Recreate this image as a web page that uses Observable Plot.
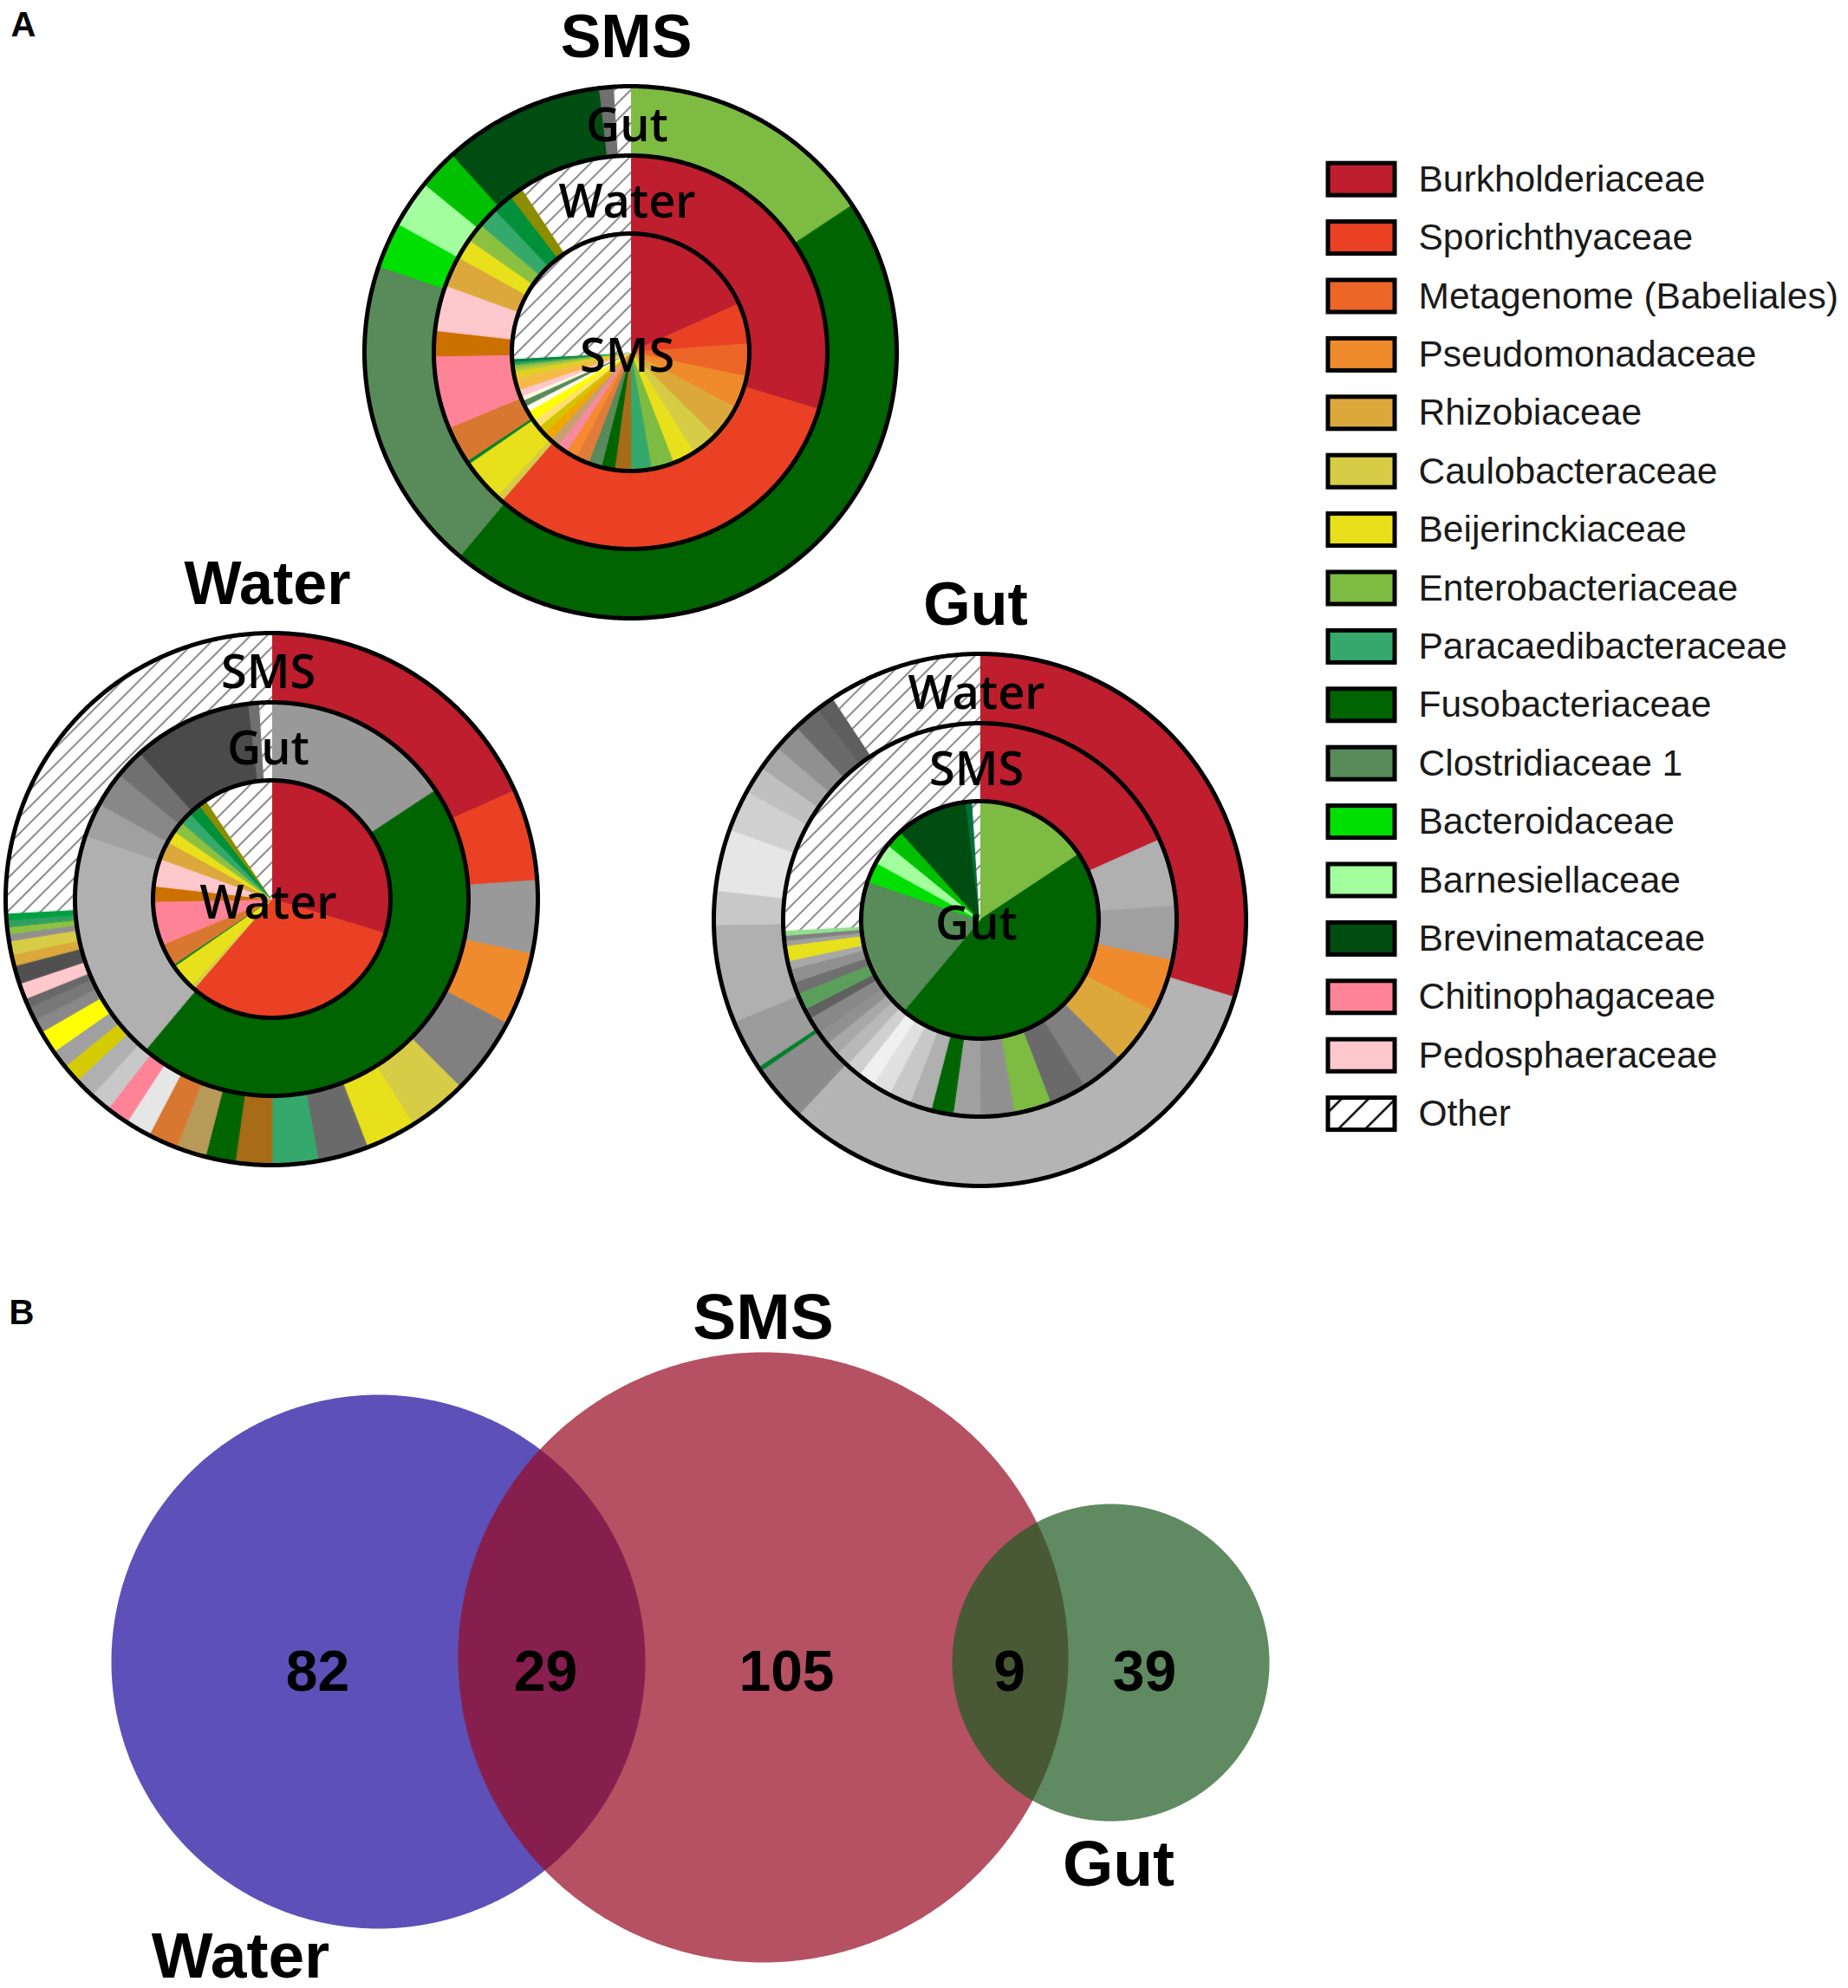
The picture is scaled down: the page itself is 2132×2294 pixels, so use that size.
<!DOCTYPE html>
<html>
<head>
<meta charset="utf-8">
<script src="https://cdn.jsdelivr.net/npm/d3@7"></script>
<script src="https://cdn.jsdelivr.net/npm/@observablehq/plot@0.6"></script>
<style>
  html, body { margin: 0; padding: 0; background: #fff; }
</style>
</head>
<body>
<div id="chart"></div>
<script>
// ---------------- DATA ----------------
const sampleNames = ["SMS", "Water", "Gut"];

// relative abundance (%) of the families in each sample, in drawing order (clockwise from 12 o'clock)
const smsAbundance = [18.33, 5.56, 4.44, 4.44, 4.72, 3.61, 3.06, 3.06, 2.78, 2.22, 1.81, 1.81, 1.81, 1.53, 1.39, 1.25,
  1.25, 1.11, 1.11, 1.39, 0.83, 0.83, 0.56, 0.97, 1.11, 0.69, 0.83, 0.42, 0.42, 0.42, 0.42, 25.83];
const waterAbundance = [29.72, 31.67, 0.56, 3.47, 0.28, 3.06, 5.97, 2.08, 3.75, 2.50, 1.67, 1.53, 1.67, 1.67, 1.11, 9.31];
const gutAbundance = [15.69, 45.42, 19.17, 2.78, 2.86, 2.42, 9.81, 0.89, 0.97];

// colours of each sample's slices, as shown in each focal-sample panel ("H" = hatched Other)
const smsColorsInSMS = ["#be1e2d","#ea4125","#ec6628","#ef8b2c","#dca83b","#d7cc45","#e8e01a","#7dbb42","#34a96b","#a86c18",
  "#006400","#588a5a","#e07b3a","#f58a30","#f58aa0","#c8a070","#f0a800","#d4c400","#ffe070","#ffff00","#fffff0","#588a5a",
  "#ffffe0","#ffc8cc","#f8b848","#f0c040","#e0d020","#b0c840","#8cc040","#30a060","#008040","H"];
const smsColorsInWater = ["#be1e2d","#ea4125","#999999","#ef8b2c","#808080","#d7cc45","#e8e01a","#6a6a6a","#34a96b","#a86c18",
  "#006400","#b89a58","#d87830","#e6e6e6","#ff8396","#c8c8c8","#b0b0b0","#d4cc00","#a0a0a0","#ffff00","#888888","#787878",
  "#686868","#ffc8cc","#505050","#dca83b","#d7cc45","#909090","#8cc040","#30a060","#00a040","H"];
const smsColorsInGut = ["#be1e2d","#b0b0b0","#a0a0a0","#ef8b2c","#dca83b","#808080","#6a6a6a","#7dbb42","#909090","#a0a0a0",
  "#006400","#b0b0b0","#c8c8c8","#e0e0e0","#f0f0f0","#d0d0d0","#b8b8b8","#a8a8a8","#909090","#888888","#606060","#5aa05a",
  "#5aa05a","#707070","#909090","#a8a8a8","#e8e01a","#e8e01a","#a0a0a0","#808080","#90e090","H"];

const waterColorsInWater = ["#be1e2d","#ea4125","#d7cc45","#e8e01a","#00802a","#d87830","#ff8396","#cc7000","#ffc8cc",
  "#dca83b","#e8e01a","#8cc040","#34a96b","#00903a","#8c8c00","H"];
const waterColorsInSMS = waterColorsInWater;
const waterColorsInGut = ["#be1e2d","#b4b4b4","#b4b4b4","#8c8c8c","#00802a","#9c9c9c","#b0b0b0","#c8c8c8","#e6e6e6",
  "#d0d0d0","#c0c0c0","#a8a8a8","#909090","#6a6a6a","#5e5e5e","H"];

const gutColorsInGut = ["#7dbb42","#006400","#588a5a","#00e000","#a3ff9e","#00c000","#004d12","#00703a","H"];
const gutColorsInSMS = ["#7dbb42","#006400","#588a5a","#00e000","#a3ff9e","#00c000","#004d12","#707070","H"];
const gutColorsInWater = ["#999999","#006400","#b0b0b0","#a0a0a0","#888888","#707070","#4a4a4a","#707070","H"];

// legend
const legendTaxa = ["Burkholderiaceae","Sporichthyaceae","Metagenome (Babeliales)","Pseudomonadaceae","Rhizobiaceae",
  "Caulobacteraceae","Beijerinckiaceae","Enterobacteriaceae","Paracaedibacteraceae","Fusobacteriaceae","Clostridiaceae 1",
  "Bacteroidaceae","Barnesiellaceae","Brevinemataceae","Chitinophagaceae","Pedosphaeraceae","Other"];
const legendColors = ["#be1e2d","#ea4125","#ec6628","#ef8b2c","#dca83b","#d7cc45","#e8e01a","#7dbb42","#34a96b","#006400",
  "#588a5a","#00e000","#a3ff9e","#004d12","#ff8396","#ffc8cc","HL"];

// Venn diagram
const vennSets = ["Water", "SMS", "Gut"];
const vennSetColors = ["rgb(29,11,156)", "rgb(152,13,36)", "rgb(32,92,36)"];
const vennRegions = ["Water only", "Water ∩ SMS", "SMS only", "SMS ∩ Gut", "Gut only"];
const vennCounts = [82, 29, 105, 9, 39];

// ---------------- LAYOUT (positions / sizes) ----------------
const W = 2132, H = 2294;
const layout = {
  donuts: [
    {focal: "SMS",   cx: 727,  cy: 406,  rings: ["SMS", "Water", "Gut"]},
    {focal: "Water", cx: 313,  cy: 1037, rings: ["Water", "Gut", "SMS"]},
    {focal: "Gut",   cx: 1130, cy: 1061, rings: ["Gut", "SMS", "Water"]}
  ],
  ringRadii: [[0, 137], [137, 227], [227, 307]],
  ringLabelDy: [22, -156, -244],
  ringLabelDx: -4,
  titleDy: -341,
  titleDx: -5,
  legend: {x: 1532, w: 77, y0: 206.7, dy: 67.4, h: 37, textX: 1636},
  vennCircles: {Water: [436, 1917, 308], SMS: [880, 1912, 352], Gut: [1281, 1918, 183]},
  vennSetLabels: {Water: [277, 2281], SMS: [880, 1544], Gut: [1290, 2175]},
  vennRegionX: [366, 629, 907, 1164, 1320],
  vennRegionY: 1950
};

// ---------------- BUILD GEOMETRY ----------------
const abundance = {SMS: smsAbundance, Water: waterAbundance, Gut: gutAbundance};
const colorsByPanel = {
  SMS:   {SMS: smsColorsInSMS,   Water: waterColorsInSMS,   Gut: gutColorsInSMS},
  Water: {SMS: smsColorsInWater, Water: waterColorsInWater, Gut: gutColorsInWater},
  Gut:   {SMS: smsColorsInGut,   Water: waterColorsInGut,   Gut: gutColorsInGut}
};
const paint = c => c === "H" ? "url(#hatch)" : c === "HL" ? "url(#hatchLegend)" : c;

const wedgePts = [];
const outlinePts = [];
const ringLabels = [];
const titles = [];
layout.donuts.forEach((dn, di) => {
  titles.push({x: dn.cx + layout.titleDx, y: dn.cy + layout.titleDy, text: dn.focal});
  dn.rings.forEach((sample, ri) => {
    const vals = abundance[sample];
    const cols = colorsByPanel[dn.focal][sample];
    const total = d3.sum(vals);
    const [r0, r1] = layout.ringRadii[ri];
    let acc = 0;
    vals.forEach((v, k) => {
      const a0 = acc / total * 2 * Math.PI;
      acc += v;
      const a1 = acc / total * 2 * Math.PI;
      const id = `${di}-${ri}-${k}`;
      const fill = paint(cols[k]);
      const n = Math.max(2, Math.ceil((a1 - a0) / (Math.PI / 360)));
      for (let j = 0; j <= n; j++) {
        const a = a0 + (a1 - a0) * j / n;
        wedgePts.push({id, fill, x: dn.cx + r1 * Math.sin(a), y: dn.cy - r1 * Math.cos(a)});
      }
      if (r0 === 0) wedgePts.push({id, fill, x: dn.cx, y: dn.cy});
      else for (let j = n; j >= 0; j--) {
        const a = a0 + (a1 - a0) * j / n;
        wedgePts.push({id, fill, x: dn.cx + r0 * Math.sin(a), y: dn.cy - r0 * Math.cos(a)});
      }
    });
    // ring outline
    for (let j = 0; j < 720; j++) {
      const a = j / 720 * 2 * Math.PI;
      outlinePts.push({id: `${di}-${ri}`, x: dn.cx + r1 * Math.sin(a), y: dn.cy - r1 * Math.cos(a)});
    }
    ringLabels.push({x: dn.cx + layout.ringLabelDx, y: dn.cy + layout.ringLabelDy[ri], text: sample});
  });
});

const L = layout.legend;
const legendRows = legendTaxa.map((name, i) => ({
  name, fill: paint(legendColors[i]),
  x1: L.x, x2: L.x + L.w,
  y1: L.y0 + i * L.dy - L.h / 2, y2: L.y0 + i * L.dy + L.h / 2,
  tx: L.textX, ty: L.y0 + i * L.dy
}));

const vennPts = [];
vennSets.forEach((s, i) => {
  const [cx, cy, r] = layout.vennCircles[s];
  for (let j = 0; j < 720; j++) {
    const a = j / 720 * 2 * Math.PI;
    vennPts.push({set: s, color: vennSetColors[i], x: cx + r * Math.sin(a), y: cy - r * Math.cos(a)});
  }
});
const vennSetLabelData = vennSets.map(s => ({text: s, x: layout.vennSetLabels[s][0], y: layout.vennSetLabels[s][1]}));
const vennCountData = vennRegions.map((reg, i) => ({region: reg, text: String(vennCounts[i]), x: layout.vennRegionX[i], y: layout.vennRegionY}));
const panelLetters = [{text: "A", x: 12, y: 41}, {text: "B", x: 10, y: 1527}];

// ---------------- PLOT ----------------
const boldFont = "Liberation Sans, Arial, Helvetica, sans-serif";
const plot = Plot.plot({
  width: W, height: H, margin: 0,
  x: {domain: [0, W], range: [0, W], axis: null},
  y: {domain: [0, H], range: [0, H], axis: null},
  color: {type: "identity"},
  style: {background: "#ffffff", overflow: "visible"},
  marks: [
    Plot.line(wedgePts, {x: "x", y: "y", z: "id", fill: d => d.fill, stroke: d => d.fill, strokeWidth: 1, curve: "linear-closed"}),
    Plot.line(outlinePts, {x: "x", y: "y", z: "id", stroke: "#000", strokeWidth: 5, fill: "none", curve: "linear-closed"}),
    Plot.text(ringLabels, {x: "x", y: "y", text: "text", fontSize: 54, fontWeight: 600, fontFamily: "Open Sans, Noto Sans, sans-serif",
      fill: "#000", textAnchor: "middle", lineAnchor: "bottom"}),
    Plot.text(titles, {x: "x", y: "y", text: "text", fontSize: 70, fontWeight: "bold", fontFamily: boldFont,
      fill: "#000", textAnchor: "middle", lineAnchor: "bottom"}),
    Plot.rect(legendRows, {x1: "x1", x2: "x2", y1: "y1", y2: "y2", fill: d => d.fill, stroke: "#000", strokeWidth: 5}),
    Plot.text(legendRows, {x: "tx", y: "ty", text: "name", fontSize: 42.5, fontFamily: "Liberation Sans, Arial, sans-serif",
      fill: "#1a1a1a", textAnchor: "start", lineAnchor: "middle"}),
    Plot.line(vennPts, {x: "x", y: "y", z: "set", fill: d => d.color, fillOpacity: 0.716, stroke: "none", curve: "linear-closed"}),
    Plot.text(vennCountData, {x: "x", y: "y", text: "text", fontSize: 66, fontWeight: "bold", fontFamily: boldFont,
      fill: "#000", textAnchor: "middle", lineAnchor: "bottom"}),
    Plot.text(vennSetLabelData, {x: "x", y: "y", text: "text", fontSize: 75, fontWeight: "bold", fontFamily: boldFont,
      fill: "#000", textAnchor: "middle", lineAnchor: "bottom"}),
    Plot.text(panelLetters, {x: "x", y: "y", text: "text", fontSize: 40, fontWeight: "bold", fontFamily: boldFont,
      fill: "#000", textAnchor: "start", lineAnchor: "bottom"})
  ]
});

// hatch patterns
const defs = d3.select(plot).insert("defs", ":first-child");
const hp = defs.append("pattern").attr("id", "hatch").attr("patternUnits", "userSpaceOnUse")
  .attr("width", 13.5).attr("height", 13.5).attr("patternTransform", "rotate(45)");
hp.append("rect").attr("width", 13.5).attr("height", 13.5).attr("fill", "#ffffff");
hp.append("line").attr("x1", 6.75).attr("y1", 0).attr("x2", 6.75).attr("y2", 13.5).attr("stroke", "#8a8a8a").attr("stroke-width", 2);
const hl = defs.append("pattern").attr("id", "hatchLegend").attr("patternUnits", "userSpaceOnUse")
  .attr("width", 22).attr("height", 22).attr("patternTransform", "rotate(45)");
hl.append("rect").attr("width", 22).attr("height", 22).attr("fill", "#ffffff");
hl.append("line").attr("x1", 11).attr("y1", 0).attr("x2", 11).attr("y2", 22).attr("stroke", "#000").attr("stroke-width", 2.5);

document.getElementById("chart").appendChild(plot);
</script>
</body>
</html>
